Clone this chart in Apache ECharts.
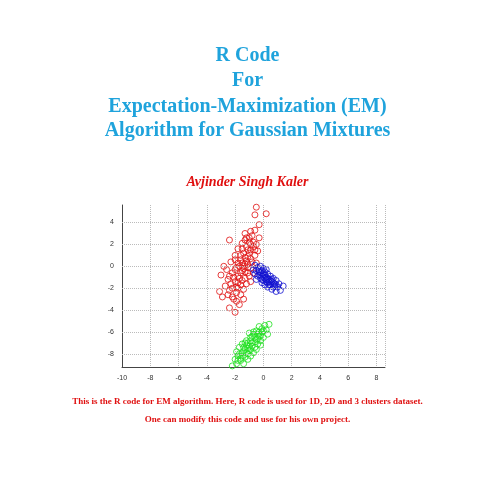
<!DOCTYPE html><html><head><meta charset="utf-8">
<script src="https://cdn.jsdelivr.net/npm/echarts@6/dist/echarts.min.js"></script>
<style>html,body{margin:0;background:#fff}#c{width:495px;height:495px}</style></head><body><div id="c"></div>
<script>
const xTicks=[-10,-8,-6,-4,-2,0,2,4,6,8];
const yTicks=[-8,-6,-4,-2,0,2,4];
const titleLines=["R Code","For","Expectation-Maximization (EM)","Algorithm for Gaussian Mixtures"];
const author="Avjinder Singh Kaler";
const footLines=["This is the R code for EM algorithm. Here, R code is used for 1D, 2D and 3 clusters dataset.","One can modify this code and use for his own project."];
const red=[[-0.5,5.4],[-0.6,4.7],[0.2,4.8],[-0.3,3.8],[-0.9,3.2],[-0.6,3.3],[-1.3,3.0],[-0.3,2.6],[-2.4,2.4],[-1.0,2.6],[-1.5,2.1],[-0.7,2.2],[-1.2,1.8],[-0.4,1.4],[-1.8,1.6],[-0.9,1.5],[-1.4,1.2],[-0.6,1.0],[-2.0,1.0],[-1.1,0.9],[-1.6,0.6],[-0.8,0.4],[-2.3,0.4],[-1.3,0.2],[-1.9,-0.1],[-0.9,-0.2],[-2.8,0],[-1.5,-0.4],[-2.2,-0.6],[-1.1,-0.6],[-3.0,-0.8],[-1.8,-0.9],[-1.3,-1.1],[-2.5,-1.2],[-2.0,-1.4],[-0.9,-1.4],[-1.6,-1.7],[-2.7,-1.8],[-2.2,-2.0],[-1.4,-2.1],[-3.1,-2.3],[-1.9,-2.4],[-2.5,-2.6],[-1.6,-2.6],[-2.9,-2.8],[-2.1,-3.0],[-1.4,-3.0],[-1.7,-3.5],[-2.4,-3.8],[-2.0,-4.2],[-1.2,0.5],[-1.7,0.0],[-1.0,1.2],[-2.3,-1.6],[-1.5,1.6],[-0.5,0.3],[-2.6,-0.3],[-1.8,-2.0],[-0.8,2.8],[-1.1,-0.1],
[-1.0,2.2],[-1.3,2.4],[-0.7,1.8],[-1.1,1.5],[-1.6,1.0],[-1.3,0.8],[-0.9,0.7],[-1.5,0.3],[-1.1,0.2],[-1.8,0.3],[-2.0,-0.3],[-1.6,-0.6],[-1.3,-0.5],[-2.1,-1.0],[-1.5,-1.3],[-1.8,-1.5],[-1.2,-1.6],[-2.4,-0.9],[-1.9,-1.9],[-2.4,-2.2],[-1.2,2.6],[-0.6,1.5],[-1.4,-0.2],[-2.0,0.6],[-0.9,2.0],[-1.7,-1.1],[-1.4,0.0],[-1.0,-0.9],[-0.7,-0.6],[-2.2,-2.8],[-1.9,-3.2],[-0.5,2.0]];
const blue=[[-0.6,0.1],[-0.4,-0.1],[-0.2,0.0],[-0.5,-0.4],[-0.3,-0.3],[0.0,-0.2],[-0.6,-0.7],[-0.2,-0.6],[0.1,-0.5],[-0.4,-0.9],[0.0,-0.8],[0.3,-0.7],[-0.2,-1.1],[0.2,-1.0],[0.5,-0.9],[-0.5,-1.2],[0.0,-1.3],[0.4,-1.2],[0.7,-1.1],[-0.1,-1.5],[0.3,-1.5],[0.6,-1.4],[0.9,-1.3],[0.1,-1.7],[0.5,-1.7],[0.8,-1.6],[1.1,-1.6],[0.3,-1.9],[0.7,-1.9],[1.0,-1.9],[1.4,-1.8],[0.6,-2.1],[1.2,-2.2],[0.9,-2.3],[-0.3,-0.5],[0.1,-1.1],[0.4,-1.4],[-0.1,-0.9],[0.2,-0.3],[0.6,-1.2],[-0.7,-0.3],[0.8,-1.8],
[-0.1,-0.4],[0.1,-0.8],[0.3,-1.1],[0.5,-1.3],[0.2,-1.4],[0.4,-1.7],[-0.3,-0.8],[-0.1,-1.2],[0.7,-1.5],[0.9,-1.7],[0.0,-0.6],[0.2,-1.2]];
const green=[[0.4,-5.3],[0.1,-5.4],[-0.3,-5.5],[0.2,-5.8],[-0.5,-5.9],[-0.1,-6.0],[0.3,-6.2],[-0.7,-6.2],[-0.3,-6.4],[0.0,-6.5],[-0.9,-6.5],[-0.5,-6.7],[-0.2,-6.8],[-1.2,-6.8],[-0.8,-7.0],[-0.4,-7.1],[-1.5,-7.1],[-1.0,-7.3],[-0.6,-7.4],[-1.7,-7.4],[-1.3,-7.6],[-0.9,-7.6],[-1.9,-7.8],[-1.5,-7.9],[-1.1,-8.0],[-0.7,-7.9],[-1.8,-8.2],[-1.3,-8.3],[-2.0,-8.5],[-1.6,-8.6],[-1.1,-8.5],[-1.9,-8.9],[-1.4,-8.9],[-2.2,-9.1],[-0.3,-6.0],[-0.8,-6.4],[-1.1,-7.0],[-1.4,-7.4],[-0.5,-7.6],[-1.7,-8.0],[-0.6,-6.9],[-1.2,-7.9],[-0.1,-5.7],[-1.0,-6.1],[-1.6,-8.4],[-0.2,-7.2],
[-0.4,-6.2],[-0.6,-6.5],[-0.9,-6.8],[-1.2,-7.2],[-0.8,-7.3],[-1.4,-7.8],[-1.0,-7.7],[-1.5,-8.2],[-0.2,-6.3],[-0.7,-6.0],[-1.3,-7.0],[-1.8,-8.6],[-0.4,-6.6],[-1.1,-7.5],[-0.9,-8.2],[0.0,-5.9]];
const serif='"Liberation Serif","DejaVu Serif",serif';
const g=[];
const ty=[57,82,108,132];
titleLines.forEach((t,i)=>g.push({type:'text',left:'center',top:ty[i]-11,style:{text:t,font:'bold 20px '+serif,fill:'#1fa3dc'}}));
g.push({type:'text',left:'center',top:175,style:{text:author,font:'italic bold 14px '+serif,fill:'#e01010'}});
g.push({type:'text',left:'center',top:397,style:{text:footLines[0],font:'bold 9px '+serif,fill:'#e01010'}});
g.push({type:'text',left:'center',top:415,style:{text:footLines[1],font:'bold 9px '+serif,fill:'#e01010'}});
const mk=(d,c)=>({type:'scatter',data:d,symbol:'circle',symbolSize:6,itemStyle:{color:'transparent',borderColor:c,borderWidth:1}});
const ch=echarts.init(document.getElementById('c'));
ch.setOption({animation:false,graphic:g,
grid:{left:122,right:110,top:205,bottom:128},
xAxis:{min:-10,max:8.6,interval:2,axisLine:{onZero:false,lineStyle:{color:'#444'}},axisTick:{show:false},axisLabel:{fontSize:7,color:'#333',customValues:xTicks},splitLine:{lineStyle:{type:'dotted',color:'#bbb'}}},
yAxis:{min:-9.2,max:5.6,axisLine:{show:true,onZero:false,lineStyle:{color:'#444'}},axisTick:{show:false},axisLabel:{fontSize:7,color:'#333',customValues:yTicks},splitLine:{show:false}},
series:[mk(red,'#e01010'),mk(blue,'#1010d0'),mk(green,'#20e020'),
{type:'line',data:[],markLine:{silent:true,symbol:'none',label:{show:false},lineStyle:{type:'dotted',color:'#bbb',width:1},data:yTicks.map(v=>({yAxis:v}))}}]});
</script></body></html>
